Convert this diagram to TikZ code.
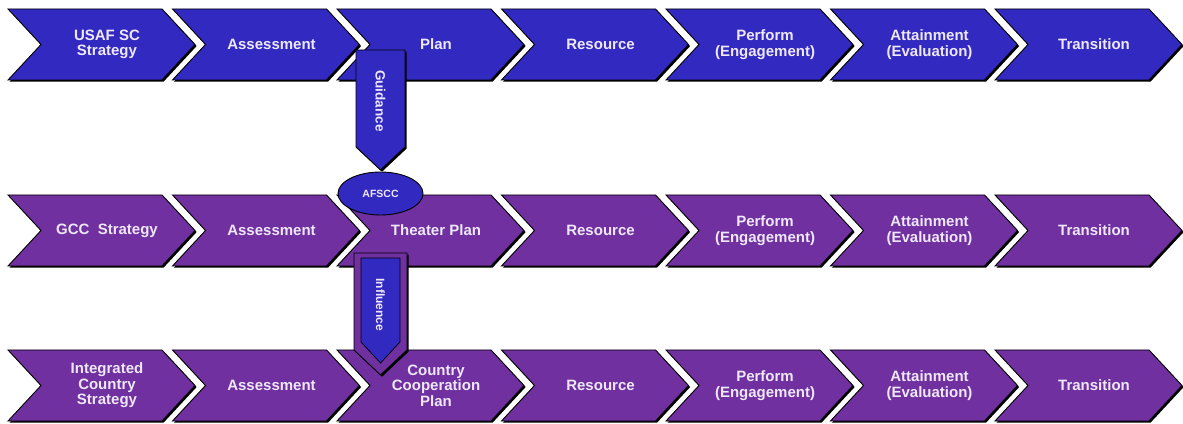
\documentclass[tikz,border=0pt]{standalone}
\usepackage{fontspec}
\setmainfont{Liberation Sans}
\usetikzlibrary{shapes.geometric,shadows}
\definecolor{scblue}{RGB}{50,42,192}
\definecolor{scpurple}{RGB}{112,48,160}
\definecolor{labeltxt}{RGB}{238,232,250}
\tikzset{
  chev/.style={draw=black,line width=0.9pt,line join=miter,
    drop shadow={shadow xshift=1.6pt,shadow yshift=-1.6pt,fill=black,opacity=1}},
  lbl/.style={text=labeltxt,font=\bfseries\fontsize{15}{15.5}\selectfont,
    align=center,inner sep=0pt},
  sidelbl/.style={lbl,rotate=-90},
}
% one row of seven chevrons: #1 centre line, #2 fill, #3 name prefix, #4 labels
\newcommand{\chevrow}[4]{%
  \foreach \lab [count=\i from 0] in {#4}{
    \pgfmathsetmacro\xo{8+164.5*\i}
    \filldraw[chev,fill=#2] (\xo,#1+35.5) -- ++(154,0) -- ++(33,-35.5)
      -- ++(-33,-35.5) -- ++(-154,0) -- ++(33,35.5) -- cycle;
    \node[lbl] (#3\i) at (\xo+99,#1) {\lab};
  }%
}

\begin{document}
\begin{tikzpicture}[x=1pt,y=1pt]
  \useasboundingbox (0,0) rectangle (1183,423);

  \chevrow{378.5}{scblue}{usaf}{{USAF SC\\Strategy},Assessment,Plan,Resource,
    {Perform\\(Engagement)},{Attainment\\(Evaluation)},Transition}
  \chevrow{192.5}{scpurple}{gcc}{GCC\ \ Strategy,Assessment,Theater Plan,Resource,
    {Perform\\(Engagement)},{Attainment\\(Evaluation)},Transition}
  \chevrow{37.5}{scpurple}{ics}{{Integrated\\Country\\Strategy},Assessment,
    {Country\\Cooperation\\Plan},Resource,
    {Perform\\(Engagement)},{Attainment\\(Evaluation)},Transition}

  % guidance down to AFSCC
  \filldraw[chev,fill=scblue] (356,373) -- (405,373) -- (405,276)
    -- (380.5,253) -- (356,276) -- cycle;
  \node[sidelbl,font=\bfseries\fontsize{13.5}{14}\selectfont] (guid) at (380.5,322) {Guidance};
  \node[ellipse,draw=black,line width=0.9pt,fill=scblue,minimum width=85pt,
    minimum height=43pt,text=labeltxt,font=\bfseries\fontsize{10.5}{11}\selectfont]
    (afscc) at (380.5,229.5) {AFSCC};

  % influence, purple casing with blue arrow inside
  \filldraw[chev,fill=scpurple] (354,170) -- (407,170) -- (407,73)
    -- (380.5,48) -- (354,73) -- cycle;
  \filldraw[draw=black,line width=0.7pt,fill=scblue] (361,165) -- (400,165)
    -- (400,81) -- (380.5,60) -- (361,81) -- cycle;
  \node[sidelbl,font=\bfseries\fontsize{12}{13}\selectfont] (infl) at (380.5,118) {Influence};
\end{tikzpicture}
\end{document}
